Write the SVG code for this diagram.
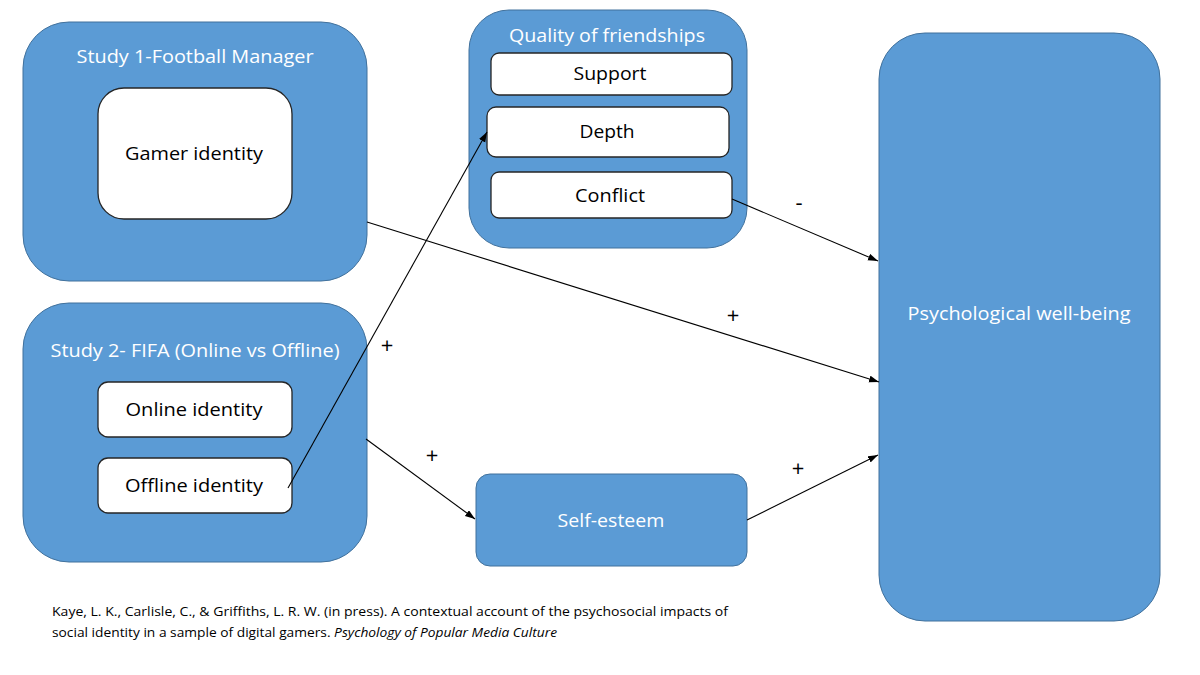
<svg xmlns="http://www.w3.org/2000/svg" width="1200" height="675" viewBox="0 0 1200 675">
<defs>
<marker id="arr" markerWidth="11" markerHeight="8" refX="10" refY="3.5" orient="auto" markerUnits="userSpaceOnUse">
<path d="M0,0 L10,3.5 L0,7 z" fill="#000"/>
</marker>
<style>
.blue{fill:#5B9BD5;stroke:#41719C;stroke-width:1}
.white{fill:#fff;stroke:#262626;stroke-width:1.3}
.wt{font-family:"Open Sans","Noto Sans",sans-serif;fill:#fff;font-size:19px;text-anchor:middle}
.bt{font-family:"Open Sans","Noto Sans",sans-serif;fill:#000;font-size:18px;text-anchor:middle}
.sign{font-family:"Open Sans","Noto Sans",sans-serif;fill:#000;font-size:22px;text-anchor:middle}
.cit{font-family:"Open Sans","Noto Sans",sans-serif;fill:#000;font-size:12px}
.conn{stroke:#000;stroke-width:1.1;fill:none;marker-end:url(#arr)}
</style>
</defs>
<rect width="1200" height="675" fill="#fff"/>

<g id="study1">
<rect class="blue" x="23" y="22" width="344" height="259" rx="46" ry="46"/>
<text class="wt" x="195" y="63" textLength="237" lengthAdjust="spacingAndGlyphs">Study 1-Football Manager</text>
</g>
<g id="gamer-identity">
<rect class="white" x="98" y="88" width="194" height="131" rx="26" ry="26"/>
<text class="bt" x="194" y="160" textLength="138" lengthAdjust="spacingAndGlyphs">Gamer identity</text>
</g>

<g id="study2">
<rect class="blue" x="23" y="303" width="344" height="259" rx="46" ry="46"/>
<text class="wt" x="195" y="357" textLength="289" lengthAdjust="spacingAndGlyphs">Study 2- FIFA (Online vs Offline)</text>
</g>
<g id="online-identity">
<rect class="white" x="98" y="382" width="194" height="55" rx="10" ry="10"/>
<text class="bt" x="194" y="416" textLength="137" lengthAdjust="spacingAndGlyphs">Online identity</text>
</g>
<g id="offline-identity">
<rect class="white" x="98" y="458" width="194" height="55" rx="10" ry="10"/>
<text class="bt" x="194" y="492" textLength="138" lengthAdjust="spacingAndGlyphs">Offline identity</text>
</g>

<g id="quality">
<rect class="blue" x="469" y="10" width="278" height="238" rx="40" ry="40"/>
<text class="wt" x="607" y="42" textLength="196" lengthAdjust="spacingAndGlyphs">Quality of friendships</text>
</g>
<g id="support">
<rect class="white" x="491" y="53" width="241" height="42" rx="8" ry="8"/>
<text class="bt" x="610" y="80" textLength="73" lengthAdjust="spacingAndGlyphs">Support</text>
</g>
<g id="depth">
<rect class="white" x="487" y="107" width="242" height="50" rx="9" ry="9"/>
<text class="bt" x="607" y="138" textLength="55" lengthAdjust="spacingAndGlyphs">Depth</text>
</g>
<g id="conflict">
<rect class="white" x="491" y="172" width="241" height="46" rx="8" ry="8"/>
<text class="bt" x="610" y="202" textLength="70" lengthAdjust="spacingAndGlyphs">Conflict</text>
</g>

<g id="self-esteem">
<rect class="blue" x="476" y="474" width="271" height="92" rx="14" ry="14"/>
<text class="wt" x="611" y="527" textLength="107" lengthAdjust="spacingAndGlyphs">Self-esteem</text>
</g>

<g id="wellbeing">
<rect class="blue" x="879" y="33" width="281" height="588" rx="46" ry="46"/>
<text class="wt" x="1019" y="320" textLength="223" lengthAdjust="spacingAndGlyphs">Psychological well-being</text>
</g>

<g id="connectors">
<line class="conn" x1="288" y1="488" x2="487" y2="132"/>
<line class="conn" x1="367" y1="222" x2="879" y2="382"/>
<line class="conn" x1="732" y1="199" x2="878" y2="261"/>
<line class="conn" x1="366" y1="439" x2="475" y2="519"/>
<line class="conn" x1="747" y1="520" x2="878" y2="455"/>
<text class="sign" x="387" y="353">+</text>
<text class="sign" x="733" y="323">+</text>
<text class="sign" x="799" y="210">-</text>
<text class="sign" x="432" y="463">+</text>
<text class="sign" x="798" y="476">+</text>
</g>

<g id="citation">
<text class="cit" x="52" y="616" textLength="676" lengthAdjust="spacingAndGlyphs">Kaye, L. K., Carlisle, C., &amp; Griffiths, L. R. W.  (in press). A contextual account of the psychosocial impacts of</text>
<text class="cit" x="52" y="637" textLength="505" lengthAdjust="spacingAndGlyphs">social identity in a sample of digital gamers. <tspan font-style="italic">Psychology of Popular Media Culture</tspan></text>
</g>
</svg>
